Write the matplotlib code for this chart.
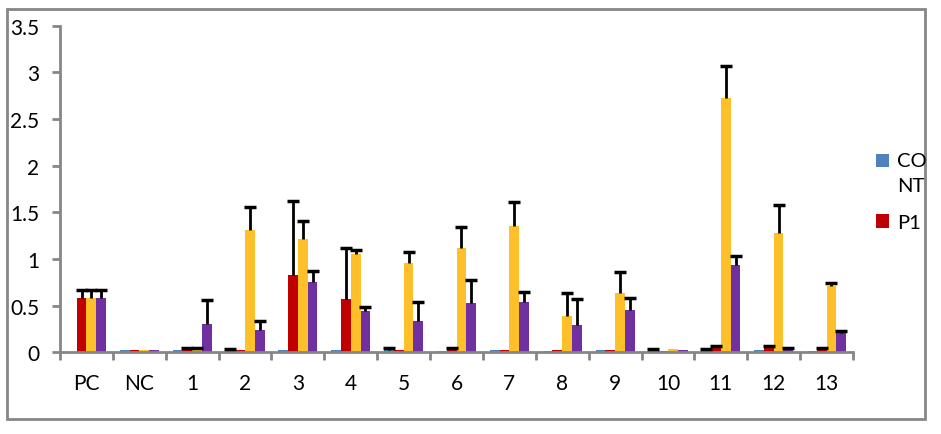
import matplotlib
matplotlib.use("Agg")
import matplotlib.pyplot as plt
from matplotlib.patches import Rectangle
import numpy as np

plt.rcParams['font.family'] = ['Lato', 'DejaVu Sans']

categories = ["PC", "NC", "1", "2", "3", "4", "5", "6", "7", "8", "9", "10", "11", "12", "13"]

cont = [0.00, 0.02, 0.02, 0.02, 0.02, 0.02, 0.02, 0.01, 0.02, 0.01, 0.02, 0.02, 0.02, 0.02, 0.01]
cont_err = [0.00, 0.00, 0.00, 0.01, 0.00, 0.00, 0.02, 0.00, 0.00, 0.00, 0.00, 0.01, 0.01, 0.00, 0.00]

p1 = [0.58, 0.02, 0.03, 0.02, 0.83, 0.57, 0.02, 0.04, 0.02, 0.02, 0.02, 0.01, 0.06, 0.06, 0.03]
p1_err = [0.09, 0.00, 0.01, 0.00, 0.79, 0.55, 0.00, 0.01, 0.00, 0.00, 0.00, 0.00, 0.01, 0.01, 0.01]

p2 = [0.58, 0.02, 0.03, 1.31, 1.21, 1.05, 0.96, 1.12, 1.35, 0.39, 0.64, 0.03, 2.72, 1.28, 0.71]
p2_err = [0.09, 0.00, 0.01, 0.25, 0.20, 0.05, 0.11, 0.22, 0.26, 0.25, 0.22, 0.00, 0.35, 0.30, 0.03]

p3 = [0.58, 0.02, 0.30, 0.24, 0.75, 0.44, 0.33, 0.53, 0.54, 0.29, 0.45, 0.02, 0.93, 0.03, 0.21]
p3_err = [0.09, 0.00, 0.26, 0.10, 0.12, 0.04, 0.21, 0.24, 0.11, 0.28, 0.13, 0.00, 0.10, 0.01, 0.02]

series = [(cont, cont_err, "#4F81BD"),
          (p1, p1_err, "#C00000"),
          (p2, p2_err, "#FDBF2A"),
          (p3, p3_err, "#7030A0")]

fig = plt.figure(figsize=(9.41, 4.35), dpi=100)
ax = fig.add_axes([0.0638, 0.188, 0.8427, 0.7506])

x = np.arange(len(categories))
w = 0.185
bars = []
for i, (vals, errs, col) in enumerate(series):
    pos = x + (i - 1.5) * w
    bars.append(ax.bar(pos, vals, w, color=col, zorder=2))
    vals = np.array(vals)
    errs = np.array(errs)
    m = errs > 0
    eb = ax.errorbar(pos[m], vals[m], yerr=[np.zeros(m.sum()), errs[m]], fmt='none',
                     ecolor='black', elinewidth=2, capsize=4.5, capthick=2.5, zorder=3)
    # only the upper cap, like the original
    eb[1][0].set_visible(False)

ax.set_xlim(-0.5, len(categories) - 0.5)
ax.set_ylim(0, 3.5)
ax.set_yticks(np.arange(0, 3.51, 0.5))
ax.set_yticklabels(["0", "0.5", "1", "1.5", "2", "2.5", "3", "3.5"])
ax.set_xticks(np.arange(-0.5, len(categories), 1))
ax.set_xticklabels([])
ax.set_xticks(x, minor=True)
ax.set_xticklabels(categories, minor=True)

spine_col = "#868686"
for s in ["top", "right"]:
    ax.spines[s].set_visible(False)
for s in ["left", "bottom"]:
    ax.spines[s].set_color(spine_col)
    ax.spines[s].set_linewidth(2)
ax.tick_params(axis='both', which='major', direction='out', length=6, width=2,
               color=spine_col, labelsize=15)
ax.tick_params(axis='y', pad=9)
ax.tick_params(axis='x', which='minor', length=0, pad=15, labelsize=15)

leg = fig.legend(bars[:2], ["CO\nNT", "P1"], loc='upper left',
                 bbox_to_anchor=(0.920, 0.672), frameon=False, fontsize=14.5,
                 handlelength=0.65, handleheight=0.65, handletextpad=0.4,
                 borderpad=0, labelspacing=1.0)
leg.get_texts()[0].set_linespacing(1.6)
# put the first marker next to the first line of the wrapped label
hp = leg.legend_handles[0]
hp.set_y(hp.get_y() + 9.0)

fig.patches.append(Rectangle((7 / 941, 15 / 435), 918 / 941, 410 / 435,
                             transform=fig.transFigure, fill=False,
                             edgecolor=spine_col, linewidth=2))

fig.savefig("out.png", dpi=100)
